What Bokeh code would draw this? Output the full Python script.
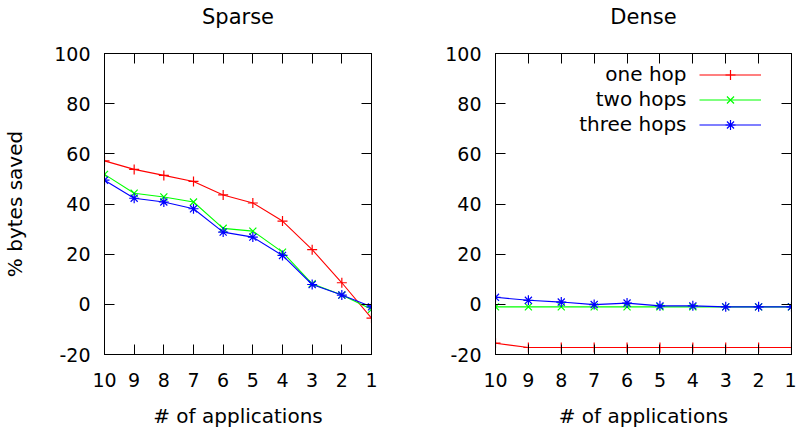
from bokeh.plotting import figure
from bokeh.layouts import row
from bokeh.models import (Range1d, FixedTicker, LinearAxis, Legend, LegendItem,
                          Label, CustomJSTickFormatter, Title)
from bokeh.core.properties import value
from bokeh.embed import file_html
from bokeh.resources import INLINE

# ---------------- data ----------------
applications = [10, 9, 8, 7, 6, 5, 4, 3, 2, 1]
y_ticks = [-20, 0, 20, 40, 60, 80, 100]
y_tick_labels = ["-20", "0", "20", "40", "60", "80", "100"]
series_names = ["one hop", "two hops", "three hops"]

sparse_one_hop = [57.2, 53.8, 51.4, 49.0, 43.6, 40.4, 33.2, 21.8, 8.6, -5.5]
sparse_two_hops = [51.8, 44.3, 42.8, 40.8, 30.3, 29.2, 20.8, 8.2, 3.7, -2.0]
sparse_three_hops = [49.5, 42.3, 40.8, 38.1, 28.8, 26.8, 19.5, 7.9, 3.7, -1.0]

dense_one_hop = [-15.5, -17.2, -17.2, -17.2, -17.2, -17.2, -17.2, -17.2, -17.2, -17.2]
dense_two_hops = [-1.0, -1.0, -1.0, -1.0, -1.0, -1.0, -1.0, -1.0, -1.0, -1.0]
dense_three_hops = [2.8, 1.6, 0.9, -0.1, 0.5, -0.6, -0.6, -1.0, -1.0, -1.0]

# ---------------- style ----------------
FONT = "DejaVu Sans"
COLORS = ["#ff0000", "#00ff00", "#0000ff"]
MARKERS = ["cross", "x", "asterisk"]
FRAME_H = 301


def style_axis(ax, ticks, show_labels=True, overrides=None):
    ax.ticker = FixedTicker(ticks=ticks)
    ax.axis_line_color = "black"
    ax.axis_line_width = 1
    ax.major_tick_line_color = "black"
    ax.major_tick_in = 10
    ax.major_tick_out = 0
    ax.minor_tick_in = 0
    ax.minor_tick_out = 0
    ax.major_label_text_font = FONT
    ax.major_label_text_font_size = "19px"
    ax.major_label_text_color = "black"
    ax.major_label_standoff = 14
    if overrides:
        ax.major_label_overrides = overrides
    if not show_labels:
        ax.formatter = CustomJSTickFormatter(code="return ''")
        ax.major_label_standoff = 0
        ax.major_label_text_font_size = "1px"


def make_panel(title, series, frame_w, border_left, border_right, ylabel=None,
               legend=False):
    p = figure(frame_width=frame_w, frame_height=FRAME_H,
               x_range=Range1d(10, 1), y_range=Range1d(-20, 100),
               output_backend="svg", toolbar_location=None,
               min_border_left=border_left, min_border_right=border_right,
               min_border_top=53, min_border_bottom=77)
    p.title = None
    p.xgrid.visible = False
    p.ygrid.visible = False
    p.outline_line_color = "black"
    p.background_fill_color = "white"
    p.border_fill_color = "white"

    style_axis(p.xaxis[0], applications)
    p.xaxis[0].major_label_standoff = 18
    style_axis(p.yaxis[0], y_ticks,
               overrides={t: s for t, s in zip(y_ticks, y_tick_labels)})
    p.xaxis[0].axis_label = "# of applications"
    p.xaxis[0].axis_label_text_font = FONT
    p.xaxis[0].axis_label_text_font_size = "20px"
    p.xaxis[0].axis_label_text_font_style = "normal"
    p.xaxis[0].axis_label_text_color = "black"
    p.xaxis[0].axis_label_standoff = 14
    if ylabel:
        p.yaxis[0].axis_label = ylabel
        p.yaxis[0].axis_label_text_font = FONT
        p.yaxis[0].axis_label_text_font_size = "20px"
        p.yaxis[0].axis_label_text_font_style = "normal"
        p.yaxis[0].axis_label_text_color = "black"
        p.yaxis[0].axis_label_standoff = 24

    # mirrored tick marks on the top and right edges
    top_ax = LinearAxis()
    style_axis(top_ax, applications, show_labels=False)
    p.add_layout(top_ax, "above")
    right_ax = LinearAxis()
    style_axis(right_ax, y_ticks, show_labels=False)
    p.add_layout(right_ax, "right")

    # spacer between frame and title, then the panel title itself
    p.add_layout(Title(text=" ", text_font_size="1px", standoff=22), "above")
    p.add_layout(Title(text=title, align="center", vertical_align="bottom",
                       text_font=FONT, text_font_size="21px",
                       text_font_style="normal", text_color="black",
                       standoff=0), "above")

    items = []
    for vals, color, marker, name in zip(series, COLORS, MARKERS, series_names):
        lr = p.line(applications, vals, line_color=color, line_width=1.1)
        sr = p.scatter(applications, vals, marker=marker, size=10,
                       line_color=color, fill_color=color, line_width=1.2)
        items.append(LegendItem(label=value(""), renderers=[lr, sr]))

    if legend:
        lg = Legend(items=items, location=(204, 217), orientation="vertical",
                    glyph_width=62, glyph_height=25, label_width=0,
                    label_height=0, label_standoff=0, padding=0, spacing=0,
                    margin=0, border_line_color=None, background_fill_alpha=0,
                    label_text_font_size="1px")
        p.add_layout(lg, "center")
        for i, name in enumerate(series_names):
            p.add_layout(Label(x=191, y=281 - 25 * i, x_units="screen",
                               y_units="screen", text=name, text_align="right",
                               text_baseline="middle", text_font=FONT,
                               text_font_size="20px", text_color="black"))
    return p


left = make_panel("Sparse", [sparse_one_hop, sparse_two_hops, sparse_three_hops],
                  267, 98, 60, ylabel="% bytes saved")
right = make_panel("Dense", [dense_one_hop, dense_two_hops, dense_three_hops],
                   296, 64, 5, legend=True)

layout = row(left, right)
open("out.html", "w").write(file_html(layout, INLINE))
